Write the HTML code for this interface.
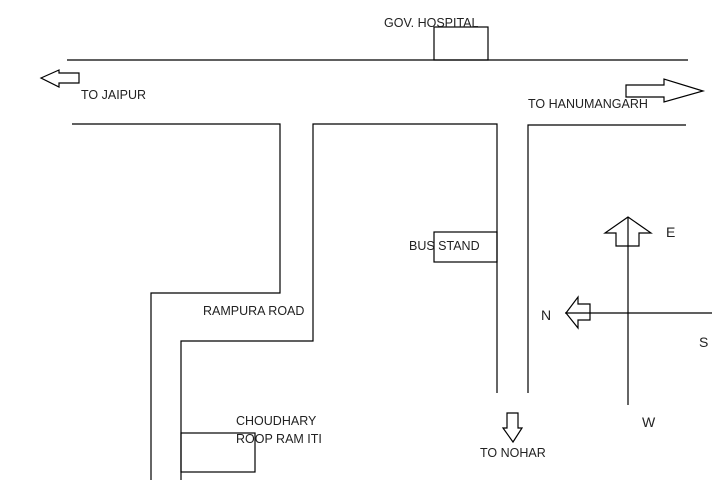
<!DOCTYPE html>
<html><head><meta charset="utf-8"><style>
html,body{margin:0;padding:0;background:#fff;}
svg{display:block}
text{font-family:"Liberation Sans",sans-serif;font-size:12.5px;fill:#222}
</style></head><body>
<svg width="721" height="480" viewBox="0 0 721 480" xmlns="http://www.w3.org/2000/svg">
<g stroke="#000" stroke-width="1.2" fill="none">
<line x1="67" y1="60" x2="688" y2="60"/>
<rect x="434" y="27" width="54" height="33"/>
<polygon points="41,78 59,70 59,73 79,73 79,83 59,83 59,87"/>
<polygon points="626,85 664,85 664,79 703,91 664,102 664,97 626,97"/>
<polyline points="72,124 280,124 280,293 151,293 151,480"/>
<polyline points="497,393 497,124 313,124 313,341 181,341 181,480"/>
<polyline points="528,393 528,125 686,125"/>
<rect x="434" y="232" width="63" height="30"/>
<rect x="181" y="433" width="74" height="39"/>
<polygon points="507,413 518,413 518,428 522,428 513,442 503,428 507,428"/>
<line x1="628" y1="217" x2="628" y2="405"/>
<line x1="565" y1="313" x2="712" y2="313"/>
<polygon points="628,217 651,233 639,233 639,246 616,246 616,233 605,233"/>
<polygon points="566,313 578,297 578,304 590,304 590,320 578,320 578,328"/>
</g>
<text x="384" y="27">GOV. HOSPITAL</text>
<text x="81" y="99">TO JAIPUR</text>
<text x="528" y="108">TO HANUMANGARH</text>
<text x="409" y="250">BUS STAND</text>
<text x="203" y="315">RAMPURA ROAD</text>
<text x="236" y="425">CHOUDHARY</text>
<text x="236" y="443">ROOP RAM ITI</text>
<text x="480" y="457">TO NOHAR</text>
<text x="666" y="237" style="font-size:14px">E</text>
<text x="541" y="320" style="font-size:14px">N</text>
<text x="699" y="347" style="font-size:14px">S</text>
<text x="642" y="427" style="font-size:14px">W</text>
</svg>
</body></html>
